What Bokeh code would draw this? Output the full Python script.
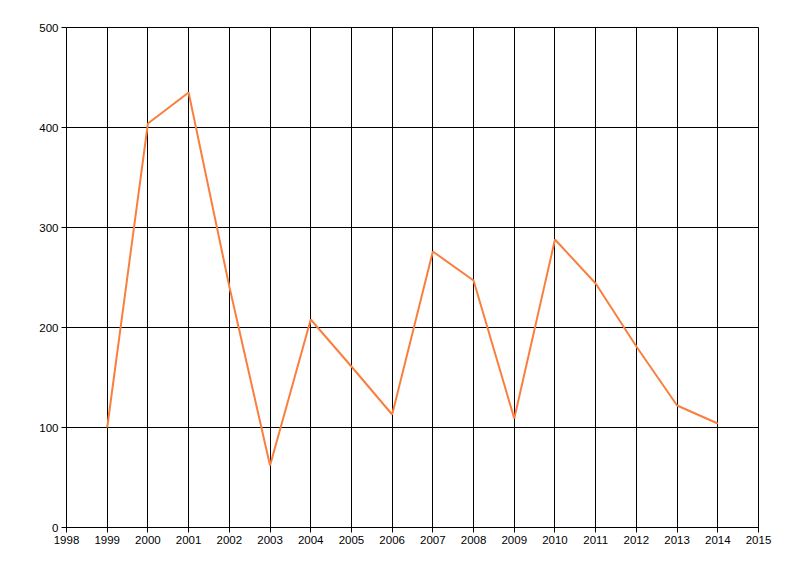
from bokeh.plotting import figure
from bokeh.models import FixedTicker, Range1d
from bokeh.embed import file_html
from bokeh.resources import INLINE

years = [1999, 2000, 2001, 2002, 2003, 2004, 2005, 2006,
         2007, 2008, 2009, 2010, 2011, 2012, 2013, 2014]
values = [100, 404, 435, 241, 62, 208, 161, 113,
          276, 247, 109, 288, 244, 181, 122, 104]

x_ticks = list(range(1998, 2016))
y_ticks = [0, 100, 200, 300, 400, 500]

p = figure(width=800, height=576, output_backend="svg", toolbar_location=None,
           tools="", x_range=Range1d(1998, 2015), y_range=Range1d(0, 500),
           min_border_left=66, min_border_right=42, min_border_top=27,
           min_border_bottom=49)

p.line(years, values, line_color="#FA7F3E", line_width=2)

# black grid on every tick
p.xaxis.ticker = FixedTicker(ticks=x_ticks)
p.yaxis.ticker = FixedTicker(ticks=y_ticks)
p.xgrid.grid_line_color = "black"
p.ygrid.grid_line_color = "black"
p.xgrid.grid_line_alpha = 1.0
p.ygrid.grid_line_alpha = 1.0

for ax in (p.xaxis, p.yaxis):
    ax.axis_line_color = "black"
    ax.major_tick_line_color = "black"
    ax.minor_tick_line_color = None
    ax.major_tick_in = 0
    ax.major_tick_out = 5
    ax.major_label_text_font = "Liberation Sans"
    ax.major_label_text_font_size = "11.5px"
    ax.major_label_text_color = "black"
    ax.major_label_standoff = 3

p.outline_line_color = "black"
p.outline_line_alpha = 1.0
p.background_fill_color = "white"
p.border_fill_color = "white"

open("out.html", "w").write(file_html(p, INLINE))
